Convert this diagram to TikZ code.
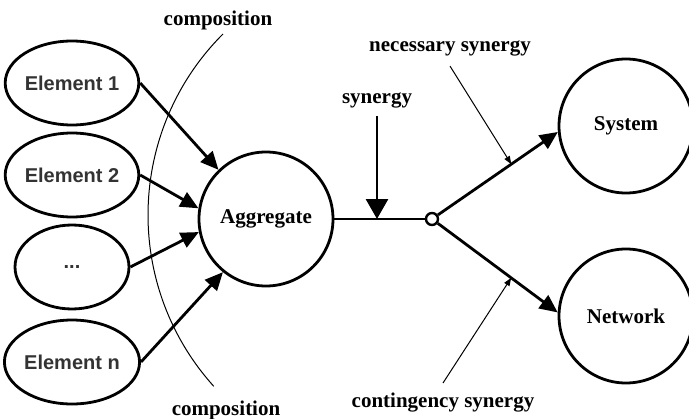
\documentclass[tikz,border=0pt]{standalone}
\usepackage{fontspec}
\setmainfont{Liberation Serif}
\newfontfamily\elemfont{Liberation Sans}
\usetikzlibrary{calc, positioning}
\usetikzlibrary{arrows.meta}
\usepgflibrary{shapes.geometric}
\def\ew{57pt}
\def\eh{42pt}
\def\cd{67pt}
\tikzset{
    element/.style = {
        draw, ellipse, minimum width=\ew, minimum height=\eh, line width=1.4pt,
        inner sep=0pt, font=\elemfont\bfseries\fontsize{10}{12}\selectfont, text=black!80
    },
    whole/.style = {
        draw, circle, minimum size=\cd, line width=1.4pt, inner sep=0pt,
        font=\bfseries\fontsize{10.5}{12}\selectfont
    },
    label/.style = {
        font=\bfseries\fontsize{10.5}{12}\selectfont, inner sep=1pt
    },
    heavy/.style = {
        line width=1.4pt, -{Triangle[width=8pt,length=9pt]}
    },
    hint/.style = {
        line width=0.5pt, -{Triangle[width=3pt,length=4pt]}
    },
}

\begin{document}
\begin{tikzpicture}[x=0.5pt, y=0.5pt]
        \useasboundingbox (0,0) rectangle (689,418);

        % Place the blocks
        \node[element] (e1) at (72,335) {Element 1};
        \node[element] (e2) at (72,243) {Element 2};
        \node[element] (e3) at (72,151) {...};
        \node[element] (en) at (72,56) {Element n};
        \node[whole] (agg) at (266,199) {Aggregate};
        \node[draw, circle, line width=1.2pt, minimum size=6pt, inner sep=0pt] (jn) at (432,199) {};
        \node[whole] (sys) at (626,292) {System};
        \node[whole] (net) at (626,102) {Network};

        % Labels
        \node[label] (comptop) at (218,398) {composition};
        \node[label] (compbot) at (226,8) {composition};
        \node[label] (syn) at (377,318) {synergy};
        \node[label] (nec) at (450,370) {necessary synergy};
        \node[label] (cont) at (443,15) {contingency synergy};

        % Composition boundary
        \draw[line width=0.5pt] (404,203) ++(135:256) arc[start angle=135, end angle=222, radius=256];

        % Draw connections
        \draw[heavy] (e1.east) -- (agg.134);
        \draw[heavy] (e2.east) -- (agg.171);
        \draw[heavy] (e3.east) -- (agg.191);
        \draw[heavy] (en.east) -- (agg.231);
        \draw[line width=1.2pt] (agg.east) -- (jn.west);
        \coordinate (s) at (377,199);
        \draw[heavy, -{Triangle[width=11pt,length=10pt]}] (syn.south) ++(0,-6) -- (s);
        \draw[heavy] (jn) -- (sys.185);
        \draw[heavy] (jn) -- (net.177);

        % Synergy hints
        \coordinate (p1) at ($(jn)!0.63!(sys.185)$);
        \coordinate (p2) at ($(jn)!0.63!(net.177)$);
        \draw[hint] ([yshift=-4pt]nec.south) -- (p1);
        \draw[hint] ([yshift=4pt]cont.north) -- (p2);
    \end{tikzpicture}
\end{document}
